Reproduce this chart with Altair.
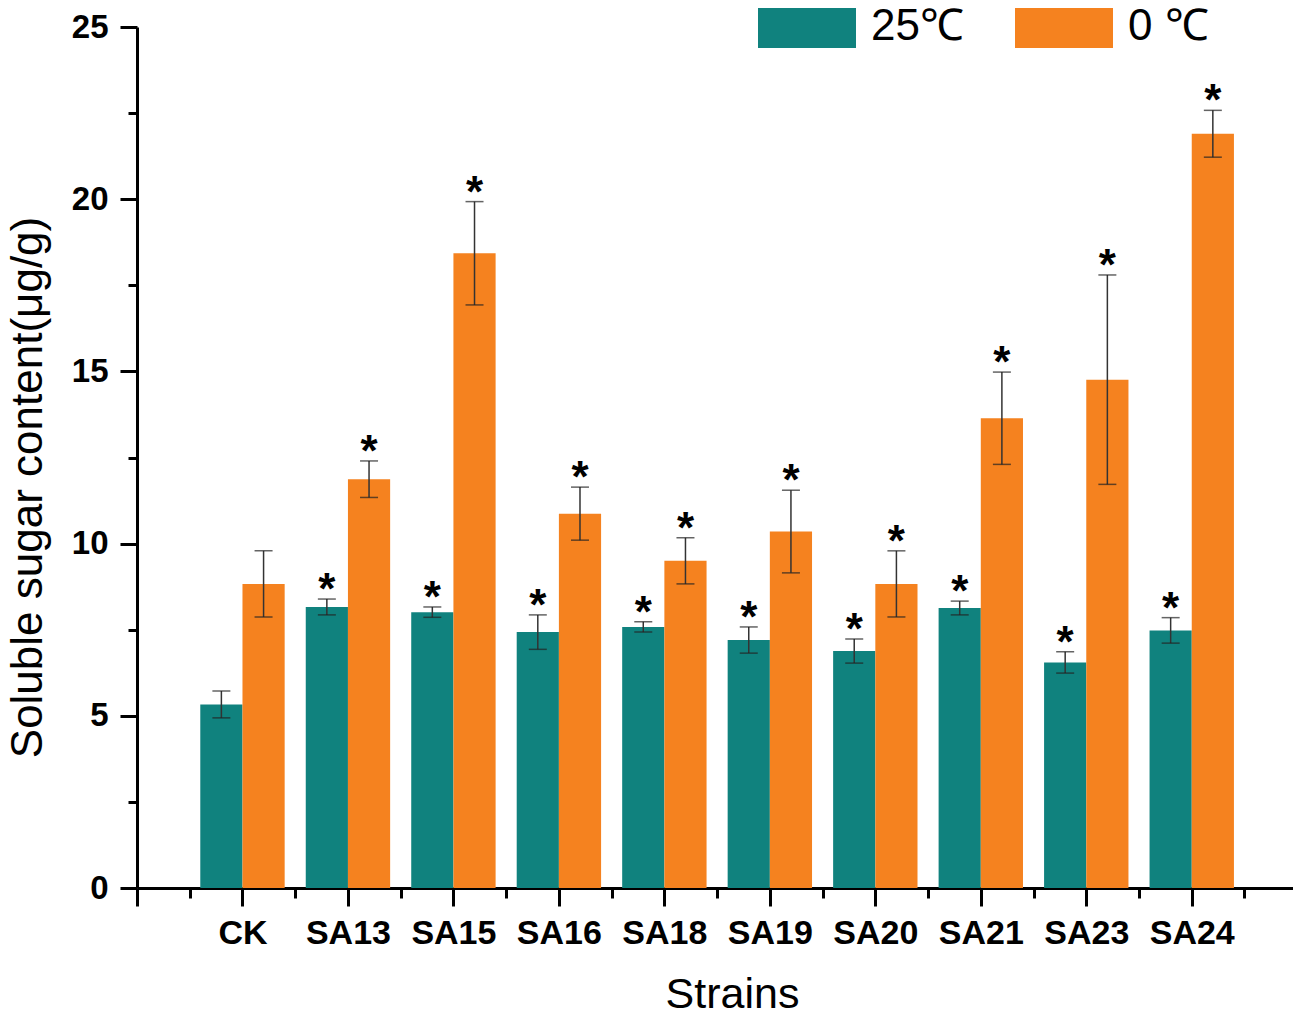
import json
import altair as alt
import pandas as pd

FONT = "Liberation Sans, Arial, sans-serif"

strains = ["CK", "SA13", "SA15", "SA16", "SA18", "SA19", "SA20", "SA21", "SA23", "SA24"]
temps = ["25℃", "0 ℃"]
colors = ["#10827E", "#F5821F"]

mean_25 = [5.33, 8.16, 8.01, 7.43, 7.58, 7.20, 6.88, 8.13, 6.55, 7.48]
sd_25 = [0.39, 0.23, 0.15, 0.50, 0.15, 0.38, 0.35, 0.20, 0.31, 0.37]
mean_0 = [8.83, 11.87, 18.43, 10.87, 9.50, 10.35, 8.83, 13.64, 14.76, 21.90]
sd_0 = [0.96, 0.53, 1.50, 0.77, 0.67, 1.20, 0.96, 1.34, 3.04, 0.68]
sig_25 = [False, True, True, True, True, True, True, True, True, True]
sig_0 = [False, True, True, True, True, True, True, True, True, True]

rows = []
for i, s in enumerate(strains):
    for t, (m, sd, sg) in enumerate([(mean_25[i], sd_25[i], sig_25[i]), (mean_0[i], sd_0[i], sig_0[i])]):
        rows.append({"strain": s, "idx": i, "tidx": t, "temp": temps[t],
                     "mean": m, "sd": sd, "sig": sg})
df = pd.DataFrame(rows)

BW = 0.4
base = alt.Chart(df).transform_calculate(
    x0=f"datum.idx + (datum.tidx - 1) * {BW}",
    x1=f"datum.idx + datum.tidx * {BW}",
    xc=f"datum.idx + (datum.tidx - 0.5) * {BW}",
    lo="datum.mean - datum.sd",
    hi="datum.mean + datum.sd",
    zero="0",
)

xs = alt.Scale(domain=[-1, 9.96], nice=False, zero=False)
ys = alt.Scale(domain=[0, 25], nice=False, zero=True)

label_expr_x = (
    "(datum.value % 1 === 0 && datum.value >= 0 && datum.value <= 9) ? "
    + json.dumps(strains) + "[datum.value] : ''"
)

xaxis = alt.Axis(
    values=[-1 + 0.5 * k for k in range(22)],
    labelExpr=label_expr_x,
    tickSize={"condition": {"test": "datum.value % 1 !== 0", "value": 10}, "value": 18},
    tickWidth=3, tickColor="black",
    domainWidth=3, domainColor="black",
    labelFont=FONT, labelFontSize=34, labelFontWeight="bold", labelColor="black",
    labelPadding=10, labelOverlap=False, labelFlush=False,
    title="Strains", titleFont=FONT, titleFontSize=43, titleFontWeight="normal",
    titleColor="black", titleBaseline="alphabetic", titleX=595, titleY=119,
    grid=False,
)

yaxis = alt.Axis(
    values=[2.5 * k for k in range(11)],
    labelExpr="datum.value % 5 === 0 ? datum.label : ''",
    tickSize={"condition": {"test": "datum.value % 5 !== 0", "value": 9}, "value": 17},
    tickWidth=3, tickColor="black",
    domainWidth=3, domainColor="black",
    labelFont=FONT, labelFontSize=33, labelFontWeight="bold", labelColor="black",
    labelPadding=12, labelOverlap=False, labelFlush=False,
    title="Soluble sugar content(μg/g)", titleFont=FONT, titleFontSize=44,
    titleFontWeight="normal", titleColor="black", titleBaseline="alphabetic",
    titleAngle=270, titleAlign="center", titleX=-96, titleY=460,
    grid=False,
)

legend = alt.Legend(
    orient="none", legendX=621, legendY=-49, direction="horizontal", title=None,
    symbolType="M-1,-0.55H1V0.43H-1Z", symbolSize=9604, symbolStrokeWidth=0,
    symbolOpacity=1, labelFont=FONT, labelFontSize=44, labelColor="black",
    labelOffset=15, columnPadding=51, padding=0, labelLimit=400,
)

bars = base.mark_bar().encode(
    x=alt.X("x0:Q", scale=xs, axis=xaxis),
    x2="x1:Q",
    y=alt.Y("mean:Q", scale=ys, axis=yaxis),
    y2="zero:Q",
    color=alt.Color("temp:N", scale=alt.Scale(domain=temps, range=colors), legend=legend),
)

stems = base.mark_rule(color="#333333", strokeWidth=1.5).encode(
    x=alt.X("xc:Q", scale=xs, axis=xaxis),
    y=alt.Y("lo:Q", scale=ys, axis=yaxis),
    y2="hi:Q",
)

caps = base.transform_fold(["lo", "hi"], as_=["end", "val"]).mark_tick(
    orient="horizontal", size=18, thickness=1.5, color="#222222"
).encode(
    x=alt.X("xc:Q", scale=xs, axis=xaxis),
    y=alt.Y("val:Q", scale=ys, axis=yaxis),
)

stars = base.transform_filter("datum.sig").mark_text(
    text="*", font=FONT, fontSize=44, fontWeight="bold", baseline="alphabetic",
    dy=5, color="black"
).encode(
    x=alt.X("xc:Q", scale=xs, axis=xaxis),
    y=alt.Y("hi:Q", scale=ys, axis=yaxis),
)

chart = alt.layer(bars, stems, caps, stars).properties(
    width=1156, height=861,
    padding={"left": 129, "top": 19, "right": 0, "bottom": 127},
    autosize=alt.AutoSizeParams(type="none"),
    background="white",
).configure_view(stroke=None)

chart.save("out.html", embed_options={"renderer": "svg", "actions": False})
